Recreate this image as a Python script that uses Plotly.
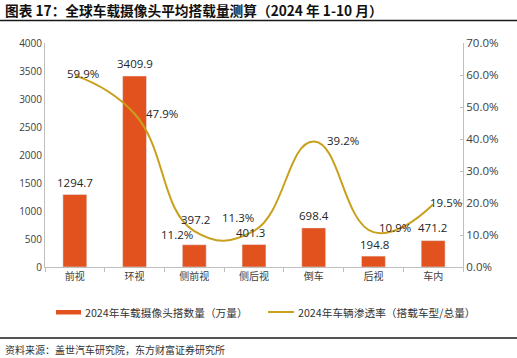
import plotly.graph_objects as go

categories = ["前视", "环视", "侧前视", "侧后视", "倒车", "后视", "车内"]
camera_counts = [1294.7, 3409.9, 397.2, 401.3, 698.4, 194.8, 471.2]
penetration = [0.599, 0.479, 0.112, 0.113, 0.392, 0.109, 0.195]
left_ticks = [0, 500, 1000, 1500, 2000, 2500, 3000, 3500, 4000]
right_ticks = [0.0, 0.1, 0.2, 0.3, 0.4, 0.5, 0.6, 0.7]

bar_name = "2024年车载摄像头搭数量（万量）"
line_name = "2024年车辆渗透率（搭载车型/总量）"
title_text = "图表 17：全球车载摄像头平均搭载量测算（2024 年 1-10 月）"
source_text = "资料来源：盖世汽车研究院，东方财富证券研究所"

# label offsets (pixels) – styling only
bar_label_shift = [(0, 12), (0, 13), (1, 25), (-4, 12), (0, 12), (1, 12), (-1, 13)]
line_label_shift = [(8, 2), (27, 0), (-17, -3), (-16, 13), (29, 1), (22, 5), (13, 2)]

BAR_COLOR = "#E2521F"
LINE_COLOR = "#C9A01C"
W, H = 517, 358
L, R, T, B = 45, 54, 43, 91
pw, ph = W - L - R, H - T - B

def px_x(x):
    return (x - L) / pw

def px_y(y):
    return (H - B - y) / ph

fig = go.Figure()
fig.add_trace(go.Bar(x=categories, y=camera_counts, marker_color=BAR_COLOR,
                     width=0.4, showlegend=False, yaxis="y"))
fig.add_trace(go.Scatter(x=categories, y=penetration, mode="lines",
                         line=dict(color=LINE_COLOR, width=2, shape="spline", smoothing=1.3),
                         showlegend=False, yaxis="y2"))

label_font = dict(family="Open Sans, Noto Sans CJK SC", size=11.5, color="#262626")
ann = []
for c, v, (dx, dy) in zip(categories, camera_counts, bar_label_shift):
    ann.append(dict(x=c, y=v, xref="x", yref="y", text=f"{v:.1f}", showarrow=False,
                    xshift=dx, yshift=dy, font=label_font, xanchor="center", yanchor="middle"))
for c, v, (dx, dy) in zip(categories, penetration, line_label_shift):
    ann.append(dict(x=c, y=v, xref="x", yref="y2", text=f"{v*100:.1f}%", showarrow=False,
                    xshift=dx, yshift=dy, font=label_font, xanchor="center", yanchor="middle"))
ann.append(dict(x=px_x(3), y=px_y(349), xref="paper", yref="paper", text=source_text,
                showarrow=False, xanchor="left", yanchor="middle",
                font=dict(family="Noto Sans CJK SC", size=10, color="#333333")))
legend_font = dict(family="Noto Sans CJK SC", size=10.7, color="#333333")
ann.append(dict(x=px_x(83), y=px_y(312), xref="paper", yref="paper", text=bar_name,
                showarrow=False, xanchor="left", yanchor="middle", font=legend_font))
ann.append(dict(x=px_x(296), y=px_y(312), xref="paper", yref="paper", text=line_name,
                showarrow=False, xanchor="left", yanchor="middle", font=legend_font))

shapes = [
    dict(type="line", xref="paper", yref="paper", x0=px_x(0), x1=px_x(W), y0=px_y(20.5), y1=px_y(20.5),
         line=dict(color="#1a1a1a", width=1.5)),
    dict(type="line", xref="paper", yref="paper", x0=px_x(0), x1=px_x(W), y0=px_y(338), y1=px_y(338),
         line=dict(color="#1a1a1a", width=1.5)),
    # legend swatches
    dict(type="rect", xref="paper", yref="paper", x0=px_x(56), x1=px_x(81), y0=px_y(310), y1=px_y(314.5),
         fillcolor=BAR_COLOR, line=dict(width=0)),
    dict(type="line", xref="paper", yref="paper", x0=px_x(268), x1=px_x(294), y0=px_y(312), y1=px_y(312),
         line=dict(color=LINE_COLOR, width=2)),
]

fig.update_layout(
    width=W, height=H,
    margin=dict(l=L, r=R, t=T, b=B, autoexpand=False),
    paper_bgcolor="white", plot_bgcolor="white",
    showlegend=False,
    title=dict(text=title_text, x=5 / W, xref="container", xanchor="left",
               y=1 - 11 / H, yref="container", yanchor="middle",
               font=dict(family="Noto Sans CJK SC", size=13.7, color="#111111", weight="bold")),
    xaxis=dict(type="category", range=[-0.5, 6.5], showline=True, linecolor="#BFBFBF", linewidth=1,
               ticks="outside", tickson="boundaries", ticklen=4, tickcolor="#BFBFBF",
               tickfont=dict(family="Noto Sans CJK SC", size=10, color="#404040"),
               showgrid=False, zeroline=False),
    yaxis=dict(range=[0, 4000], tickvals=left_ticks, showline=True, linecolor="#BFBFBF",
               linewidth=1, ticks="", showgrid=False, zeroline=False,
               tickfont=dict(family="Open Sans", size=10, color="#404040")),
    yaxis2=dict(range=[0, 0.7], tickvals=right_ticks, tickformat=".1%", overlaying="y",
                side="right", showline=True, linecolor="#BFBFBF", linewidth=1,
                ticks="inside", ticklen=3, tickcolor="#BFBFBF", showgrid=False, zeroline=False,
                tickfont=dict(family="Open Sans", size=11.5, color="#404040")),
    annotations=ann, shapes=shapes,
)

fig.write_html("out.html", config={"displayModeBar": False},
               post_script="document.body.style.margin='0';document.body.style.overflow='hidden';")
